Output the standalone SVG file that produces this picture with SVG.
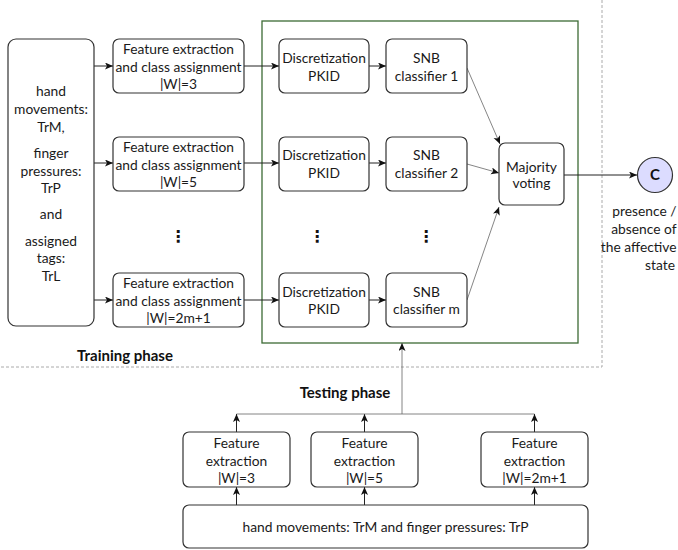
<svg xmlns="http://www.w3.org/2000/svg" width="678" height="550" viewBox="0 0 678 550">
<defs>
<style>
.box{fill:#fff;stroke:#333;stroke-width:1.2}
.t{font-family:Lato,"Liberation Sans",sans-serif;font-size:13.8px;fill:#1a1a1a;text-anchor:middle}
.r{text-anchor:end}
.b{font-family:Lato,"Liberation Sans",sans-serif;font-size:15px;font-weight:bold;fill:#111;text-anchor:middle}
.dots{font-family:"DejaVu Sans",sans-serif;font-size:16px;font-weight:bold;fill:#111;text-anchor:middle}
.c{fill:none;stroke:#222;stroke-width:1}
.cg{fill:none;stroke:#666;stroke-width:0.8}
.dash{fill:none;stroke:#aaa;stroke-width:1;stroke-dasharray:3 2}
</style>
<marker id="ah" markerUnits="userSpaceOnUse" markerWidth="9" markerHeight="8" refX="8" refY="3.5" orient="auto">
<path d="M0,0 L8,3.5 L0,7 L2,3.5 z" fill="#111"/>
</marker>
</defs>
<rect width="678" height="550" fill="#fff"/>
<g id="phase-borders">
<path class="dash" d="M602,0 V367 H0"/>
</g>
<g id="training-container">
<rect x="262" y="21" width="316" height="322" fill="none" stroke="#3c6b35" stroke-width="1.3"/>
</g>
<g id="connectors">
<line class="c" x1="94" y1="66" x2="113" y2="66" marker-end="url(#ah)"/>
<line class="c" x1="94" y1="163" x2="113" y2="163" marker-end="url(#ah)"/>
<line class="c" x1="94" y1="300" x2="113" y2="300" marker-end="url(#ah)"/>
<line class="c" x1="244" y1="66" x2="279" y2="66" marker-end="url(#ah)"/>
<line class="c" x1="244" y1="163" x2="279" y2="163" marker-end="url(#ah)"/>
<line class="c" x1="244" y1="300" x2="279" y2="300" marker-end="url(#ah)"/>
<line class="c" x1="369" y1="66" x2="386" y2="66" marker-end="url(#ah)"/>
<line class="c" x1="369" y1="163" x2="386" y2="163" marker-end="url(#ah)"/>
<line class="c" x1="369" y1="300" x2="386" y2="300" marker-end="url(#ah)"/>
<line class="cg" x1="467" y1="68" x2="500" y2="144" marker-end="url(#ah)"/>
<line class="cg" x1="467" y1="164" x2="499" y2="173" marker-end="url(#ah)"/>
<line class="cg" x1="467" y1="300" x2="499" y2="207" marker-end="url(#ah)"/>
<line class="c" x1="564" y1="175" x2="637" y2="175" marker-end="url(#ah)"/>
<line class="c" x1="236.5" y1="505" x2="236.5" y2="487" marker-end="url(#ah)"/>
<line class="c" x1="364.5" y1="505" x2="364.5" y2="487" marker-end="url(#ah)"/>
<line class="c" x1="534.5" y1="505" x2="534.5" y2="487" marker-end="url(#ah)"/>
<line class="c" x1="236.5" y1="432" x2="236.5" y2="414" marker-end="url(#ah)"/>
<line class="c" x1="364.5" y1="432" x2="364.5" y2="414" marker-end="url(#ah)"/>
<line class="c" x1="534.5" y1="432" x2="534.5" y2="414" marker-end="url(#ah)"/>
<path class="cg" d="M236.5,414 H534.5"/>
<line class="cg" x1="402" y1="414" x2="402" y2="343" marker-end="url(#ah)"/>
</g>
<g id="input-training">
<rect class="box" x="8" y="39" width="86" height="287" rx="8"/>
<text class="t" x="51" y="95.5">hand</text>
<text class="t" x="51" y="113.5">movements:</text>
<text class="t" x="51" y="131.5">TrM,</text>
<text class="t" x="51" y="157.5">finger</text>
<text class="t" x="51" y="175.5">pressures:</text>
<text class="t" x="51" y="192.5">TrP</text>
<text class="t" x="51" y="218.5">and</text>
<text class="t" x="51" y="245.5">assigned</text>
<text class="t" x="51" y="262.5">tags:</text>
<text class="t" x="51" y="280.5">TrL</text>
</g>
<g id="fe-train-1">
<rect class="box" x="113" y="39" width="131" height="54" rx="6"/>
<text class="t" x="178.5" y="53.5">Feature extraction</text>
<text class="t" x="178.5" y="71.5">and class assignment</text>
<text class="t" x="178.5" y="88.5">|W|=3</text>
</g>
<g id="fe-train-2">
<rect class="box" x="113" y="137" width="131" height="54" rx="6"/>
<text class="t" x="178.5" y="151.5">Feature extraction</text>
<text class="t" x="178.5" y="169.5">and class assignment</text>
<text class="t" x="178.5" y="186.5">|W|=5</text>
</g>
<g id="fe-train-m">
<rect class="box" x="113" y="273" width="131" height="54" rx="6"/>
<text class="t" x="178.5" y="287.5">Feature extraction</text>
<text class="t" x="178.5" y="305.5">and class assignment</text>
<text class="t" x="178.5" y="322.5">|W|=2m+1</text>
</g>
<g id="disc-1">
<rect class="box" x="279" y="39" width="90" height="54" rx="6"/>
<text class="t" x="324" y="62.5">Discretization</text>
<text class="t" x="324" y="80.5">PKID</text>
</g>
<g id="disc-2">
<rect class="box" x="279" y="137" width="90" height="54" rx="6"/>
<text class="t" x="324" y="159.5">Discretization</text>
<text class="t" x="324" y="177.5">PKID</text>
</g>
<g id="disc-m">
<rect class="box" x="279" y="273" width="90" height="54" rx="6"/>
<text class="t" x="324" y="296.5">Discretization</text>
<text class="t" x="324" y="313.5">PKID</text>
</g>
<g id="snb-1">
<rect class="box" x="386" y="39" width="81" height="54" rx="6"/>
<text class="t" x="426.5" y="62.5">SNB</text>
<text class="t" x="426.5" y="80.5">classifier 1</text>
</g>
<g id="snb-2">
<rect class="box" x="386" y="137" width="81" height="54" rx="6"/>
<text class="t" x="426.5" y="159.5">SNB</text>
<text class="t" x="426.5" y="177.5">classifier 2</text>
</g>
<g id="snb-m">
<rect class="box" x="386" y="273" width="81" height="54" rx="6"/>
<text class="t" x="426.5" y="296.5">SNB</text>
<text class="t" x="426.5" y="313.5">classifier m</text>
</g>
<g id="ellipses">
<text class="dots" x="178" y="242">⋮</text>
<text class="dots" x="317" y="242">⋮</text>
<text class="dots" x="426" y="242">⋮</text>
</g>
<g id="majority-voting">
<rect class="box" x="499" y="143" width="65" height="62" rx="6"/>
<text class="t" x="531.5" y="171.5">Majority</text>
<text class="t" x="531.5" y="187.5">voting</text>
</g>
<g id="output-c">
<circle cx="655" cy="175" r="17.5" fill="#dcdcff" stroke="#333" stroke-width="1.2"/>
<text class="b" x="655" y="180">C</text>
<text class="t r" x="676.5" y="215.5">presence /</text>
<text class="t r" x="676.5" y="233.5">absence of</text>
<text class="t r" x="676.5" y="251.5">the affective</text>
<text class="t r" x="675" y="269.5">state</text>
</g>
<g id="labels">
<text class="b" x="125" y="361">Training phase</text>
<text class="b" x="345" y="398">Testing phase</text>
</g>
<g id="fe-test-1">
<rect class="box" x="183" y="432" width="107" height="55" rx="6"/>
<text class="t" x="236.5" y="447.5">Feature</text>
<text class="t" x="236.5" y="465.5">extraction</text>
<text class="t" x="236.5" y="482.5">|W|=3</text>
</g>
<g id="fe-test-2">
<rect class="box" x="311" y="432" width="107" height="55" rx="6"/>
<text class="t" x="364.5" y="447.5">Feature</text>
<text class="t" x="364.5" y="465.5">extraction</text>
<text class="t" x="364.5" y="482.5">|W|=5</text>
</g>
<g id="fe-test-m">
<rect class="box" x="481" y="432" width="107" height="55" rx="6"/>
<text class="t" x="534.5" y="447.5">Feature</text>
<text class="t" x="534.5" y="465.5">extraction</text>
<text class="t" x="534.5" y="482.5">|W|=2m+1</text>
</g>
<g id="input-testing">
<rect class="box" x="183" y="505" width="405" height="43" rx="6"/>
<text class="t" x="385.5" y="531.5">hand movements: TrM and finger pressures: TrP</text>
</g>
</svg>
